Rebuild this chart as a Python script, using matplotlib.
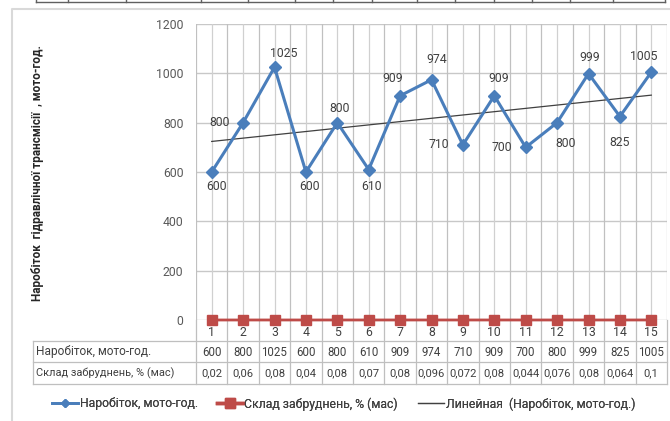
import numpy as np
import matplotlib
matplotlib.use("Agg")
import matplotlib.pyplot as plt
from matplotlib.lines import Line2D
from matplotlib.transforms import blended_transform_factory

plt.rcParams['font.family'] = ['Roboto', 'DejaVu Sans']

# ---- data ----
categories = list(range(1, 16))
narobitok = [600, 800, 1025, 600, 800, 610, 909, 974, 710, 909, 700, 800, 999, 825, 1005]
sklad = [0.02, 0.06, 0.08, 0.04, 0.08, 0.07, 0.08, 0.096, 0.072, 0.08, 0.044, 0.076, 0.08, 0.064, 0.1]
y_ticks = [0, 200, 400, 600, 800, 1000, 1200]

name_narobitok = "Наробіток, мото-год."
name_sklad = "Склад забруднень, % (мас)"
name_trend = "Линейная  (Наробіток, мото-год.)"
y_title = "Наробіток  гідравлічної трансмісії  , мото-год."

# label offsets (pixels) for the data labels of the first series
label_offsets = [(5, -15), (-23, 0), (9, 14), (4, -15), (2, 14), (3, -17), (-7, 17), (5, 20),
                 (-24, 0), (4, 17), (-24, 0), (9, -21), (1, 16), (0, -26), (-8, 16)]

BLUE = "#4A7EBB"
RED = "#BE4B48"
GRID = "#D0D0D0"
TXT = "#404040"

W, H = 670, 421
fig = plt.figure(figsize=(W / 100, H / 100), dpi=100)
fig.patch.set_facecolor("white")

# overlay in pixel coordinates for the frame and the data table
ov = fig.add_axes([0, 0, 1, 1], zorder=0)
ov.set_xlim(0, W)
ov.set_ylim(H, 0)
ov.axis("off")

# plot area
px_l, px_r, px_t, px_b = 196, 667, 24, 320
ax = fig.add_axes([px_l / W, 1 - px_b / H, (px_r - px_l) / W, (px_b - px_t) / H], zorder=2)
ax.patch.set_alpha(0)
x = np.array(categories)
ax.set_xlim(0.5, len(categories) + 0.5)
ax.set_ylim(y_ticks[0], y_ticks[-1])
for s in ax.spines.values():
    s.set_visible(False)
ax.set_yticks(y_ticks)
ax.set_yticklabels([str(v) for v in y_ticks], fontsize=8.8, color="#595959")
ax.tick_params(axis="y", length=0, pad=9)
ax.set_xticks([])

# grid
for v in y_ticks:
    ax.axhline(v, color="#C8C8C8", lw=1.0, zorder=0)
for c in x:
    ax.axvline(c, color=GRID, lw=0.9, zorder=0)
for b in np.arange(0.5, len(categories) + 1, 1.0):
    ax.axvline(b, color="#C0C0C0", lw=0.9, zorder=0)

# series
ax.plot(x, narobitok, color=BLUE, lw=2.2, marker="D", markersize=6.5,
        markerfacecolor=BLUE, markeredgecolor=BLUE, zorder=4)
ax.plot(x, sklad, color=RED, lw=2.0, marker="s", markersize=7.5,
        markerfacecolor=RED, markeredgecolor=RED, zorder=4, clip_on=False)

# linear trend of the first series
k, b0 = np.polyfit(x, narobitok, 1)
ax.plot(x[[0, -1]], k * x[[0, -1]] + b0, color="#404040", lw=0.9, zorder=3)

for xi, yi, (dx, dy) in zip(x, narobitok, label_offsets):
    ax.annotate(str(yi), (xi, yi), xytext=(dx, dy), textcoords="offset pixels",
                ha="center", va="center", fontsize=8.8, color=TXT, zorder=5)

# data table under the plot
tr = blended_transform_factory(ax.transData, ov.transData)
tab_l = 33
row_y = [320, 341, 362, 384]
for i, c in enumerate(categories):
    ov.text(c, 332, str(c), transform=tr, ha="center", va="center", fontsize=8.8, color=TXT)
    ov.text(c, 352, str(narobitok[i]), transform=tr, ha="center", va="center", fontsize=8.3, color=TXT)
    ov.text(c, 373.5, f"{sklad[i]:g}".replace(".", ","), transform=tr, ha="center", va="center",
            fontsize=8.1, color=TXT)
for b in np.arange(0.5, len(categories) + 1, 1.0):
    ov.plot([b, b], [row_y[0], row_y[-1]], transform=tr, color="#BFBFBF", lw=0.9)
for yy in row_y[1:]:
    ov.plot([tab_l, px_r], [yy, yy], color="#BFBFBF", lw=0.9)
ov.plot([tab_l, tab_l], [row_y[1], row_y[-1]], color="#BFBFBF", lw=0.9)
ov.text(36, 352, name_narobitok, ha="left", va="center", fontsize=8.6, color=TXT)
ov.text(36, 373.5, name_sklad, ha="left", va="center", fontsize=7.9, color=TXT)

# axis title
ov.text(38, 173, y_title, rotation=90, ha="center", va="center", fontsize=8.5,
        fontweight="bold", color="#262626")

# chart frame and the table edge above it
ov.plot([12, 12, W], [H, 9, 9], color="#D9D9D9", lw=1.5)
ov.plot([36, 665], [2, 2], color="#606060", lw=1.0)
for xv in [36, 68, 126, 201, 248, 295, 333, 372, 417, 455, 494, 532, 570, 613, 665]:
    ov.plot([xv, xv], [0, 2], color="#606060", lw=1.0)

# legend: one entry per block, placed along the bottom
handles = [
    Line2D([], [], color=BLUE, lw=2, marker="D", markersize=4.5),
    Line2D([], [], color=RED, lw=2.5, marker="s", markersize=6.5),
    Line2D([], [], color="#404040", lw=0.9),
]
names = [name_narobitok, name_sklad, name_trend]
starts = [52, 217, 418]
for h, n, sx in zip(handles, names, starts):
    leg = fig.legend([h], [n], loc="center left", bbox_to_anchor=(sx / W, 1 - 404 / H),
                     frameon=False, fontsize=8.8, handlelength=2.1, handletextpad=0.15,
                     borderpad=0, borderaxespad=0, labelcolor=TXT)
    fig.add_artist(leg)

fig.savefig("out.png", dpi=100, facecolor="white")
